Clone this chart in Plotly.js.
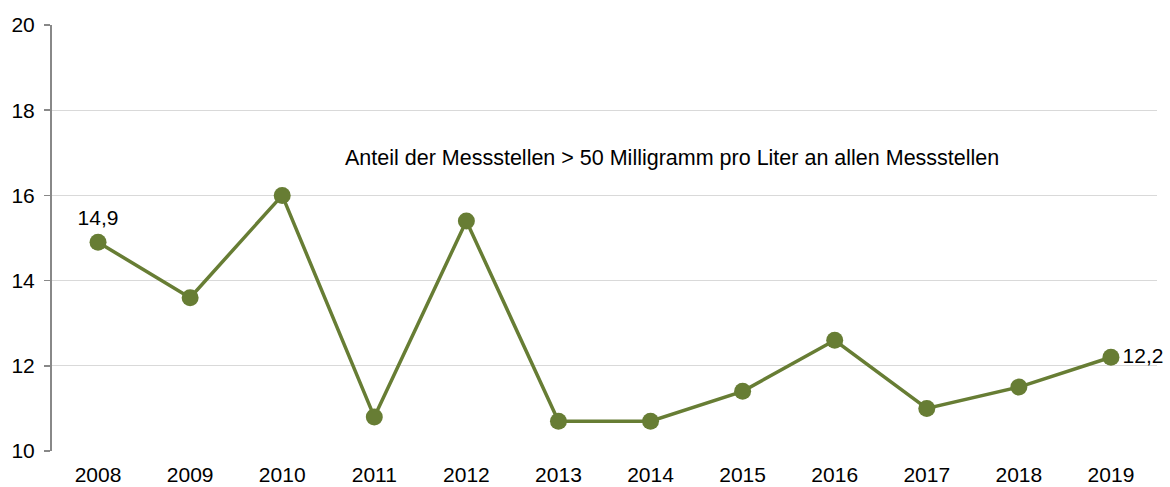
<!DOCTYPE html>
<html><head><meta charset="utf-8">
<script src="https://cdn.plot.ly/plotly-3.0.1.min.js"></script>
<style>html,body{margin:0;padding:0;background:#fff}#c{width:1170px;height:487px}</style>
</head><body><div id="c"></div>
<script>
const years = ['2008','2009','2010','2011','2012','2013','2014','2015','2016','2017','2018','2019'];
const values = [14.9, 13.6, 16.0, 10.8, 15.4, 10.7, 10.7, 11.4, 12.6, 11.0, 11.5, 12.2];
const labelledIdx = [0, 11];
const seriesLabel = 'Anteil der Messstellen > 50 Milligramm pro Liter an allen Messstellen';

const green = '#677d34';
const texts = values.map((v,i)=> labelledIdx.includes(i) ? v.toFixed(1).replace('.', ',') : '');
const positions = values.map((v,i)=> i === values.length-1 ? 'middle right' : 'top center');

const trace = {
  x: years, y: values, type: 'scatter', mode: 'lines+markers+text',
  line: {color: green, width: 3.5},
  marker: {color: green, size: 17},
  text: texts, textposition: positions,
  textfont: {family: 'Liberation Sans, Arial, sans-serif', size: 21, color: '#000'},
  cliponaxis: false, hoverinfo: 'none'
};
const layout = {
  width: 1170, height: 487,
  margin: {l: 52, r: 13, t: 25, b: 36},
  paper_bgcolor: '#fff', plot_bgcolor: '#fff',
  font: {family: 'Liberation Sans, Arial, sans-serif', size: 21, color: '#000'},
  showlegend: false,
  xaxis: {type: 'category', range: [-0.5, 11.5], showgrid: false, zeroline: false,
    showline: false, ticks: '', tickfont: {size: 21}, ticklabelstandoff: 9, fixedrange: true},
  yaxis: {range: [10, 20], tickvals: [10,12,14,16,18,20], showgrid: true, gridcolor: '#d9d9d9', gridwidth: 1,
    zeroline: false, showline: true, linecolor: '#888', linewidth: 2, ticks: 'outside', ticklen: 6,
    tickcolor: '#888', tickwidth: 1.5, tickfont: {size: 21}, ticklabelstandoff: 5, fixedrange: true},
  annotations: [{text: seriesLabel, xref: 'paper', yref: 'paper', x: 0.561, y: 0.688, showarrow: false,
    xanchor: 'center', yanchor: 'middle', font: {size: 21.5, color: '#000'}}]
};
Plotly.newPlot('c', [trace], layout, {displayModeBar: false, staticPlot: true});
</script></body></html>
